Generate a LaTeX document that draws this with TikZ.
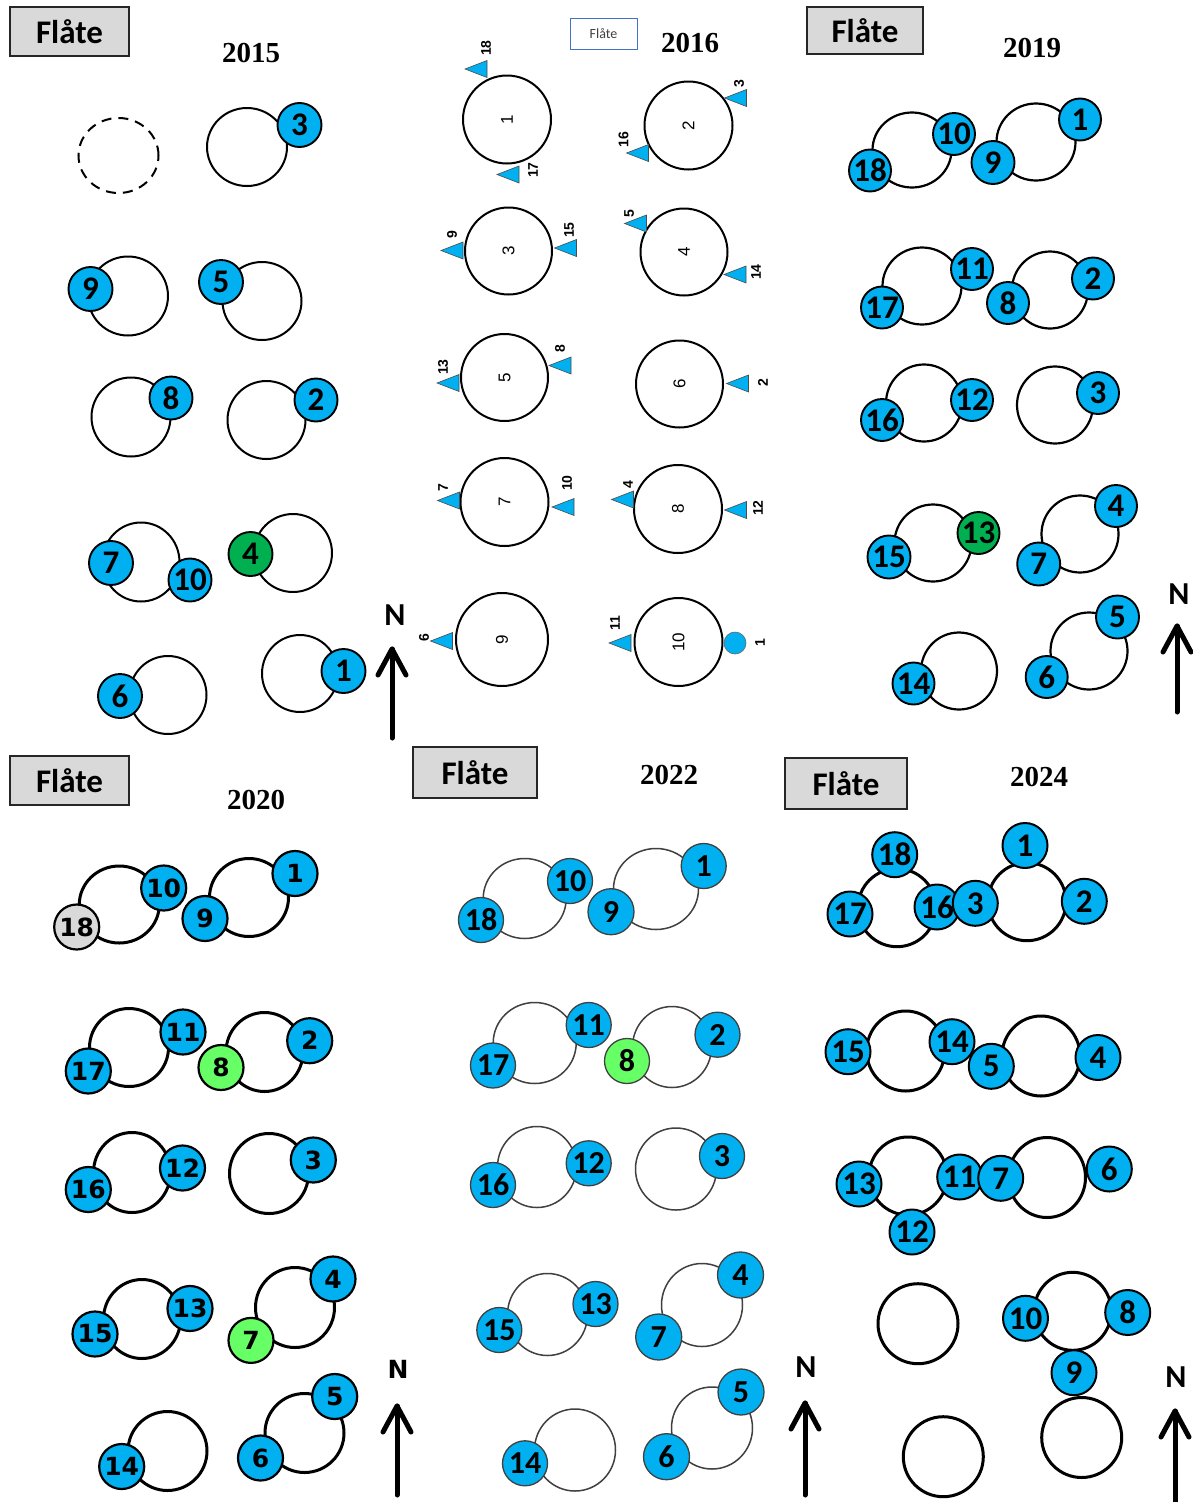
\documentclass[tikz,border=0pt]{standalone}
\usepackage{fontspec}
\setmainfont{Liberation Serif}
\newfontfamily\carl{Carlito}
\newfontfamily\dejav{DejaVu Sans}
\newfontfamily\lsans{Liberation Sans}
\newfontfamily\lserif{Liberation Serif}
\usetikzlibrary{shapes.geometric}
\definecolor{fishblue}{RGB}{0,176,240}
\definecolor{darkgreen}{RGB}{0,176,80}
\definecolor{lightgreen}{RGB}{102,255,102}
\definecolor{boxgray}{RGB}{217,217,217}
\definecolor{boxblue}{RGB}{68,114,196}
\begin{document}
\begin{tikzpicture}[x=1pt,y=-1pt,
  pen/.style 2 args={ellipse, draw, inner sep=0pt, minimum width=#1, minimum height=#2},
  fish/.style={circle, draw, fill=fishblue, line width=1.9pt, inner sep=0pt, minimum size=44pt, font=\carl\bfseries\fontsize{33}{33}\selectfont},
  fishB/.style={fish, line width=2.2pt, minimum size=45pt, font=\dejav\bfseries\fontsize{25}{25}\selectfont},
  fishC/.style={fish, line width=1.3pt, draw=black!75, minimum size=45pt, font=\carl\bfseries\fontsize{32}{32}\selectfont},
  fishD/.style={fish, line width=2pt, minimum size=45pt},
  flbox/.style={draw=black!85, fill=boxgray, line width=2pt, inner sep=0pt, font=\carl\bfseries\fontsize{33}{33}\selectfont},
  yr/.style={font=\lserif\bfseries\fontsize{29}{29}\selectfont},
  nlab/.style={font=\carl\bfseries\fontsize{32}{32}\selectfont},
  narrow/.style={line width=5pt, line cap=round, line join=round},
  clab/.style={rotate=90, font=\lsans\fontsize{17}{17}\selectfont},
  tlab/.style={rotate=90, font=\lsans\bfseries\fontsize{14}{14}\selectfont},
  tri/.pic={\filldraw[fill=fishblue, draw=black!70, line width=0.6pt] (11,-8.5) -- (11,8.5) -- (-11,0) -- cycle;}
]
\useasboundingbox (0,0) rectangle (1192,1502);
\fill[white] (0,0) rectangle (1192,1502);

% ================= 2015 =================
\node[flbox, minimum width=119pt, minimum height=49pt] (box15) at (69.5,31.5) {Flåte};
\node[yr] (y15) at (251,53) {2015};
\begin{scope}[line width=2pt]
\node[pen={80}{75}, dashed, dash pattern=on 10pt off 7pt] (a15e) at (118.5,155.5) {};
\node[pen={80}{78}] (a15p3) at (247,147) {};
\node[pen={80}{79}] (a15p9) at (128,296) {};
\node[pen={79}{78}] (a15p5) at (262,301) {};
\node[pen={79}{79}] (a15p8) at (131,417) {};
\node[pen={78}{78}] (a15p2) at (266.5,420) {};
\node[pen={77}{79}] (a15p7) at (141,562) {};
\node[pen={78}{78}] (a15p4) at (293,553) {};
\node[pen={76}{77}] (a15p1) at (300,673.5) {};
\node[pen={77}{78}] (a15p6) at (168,695) {};
\end{scope}
\node[fish] (a15f3) at (299.5,125) {3};
\node[fish] (a15f9) at (90.5,289) {9};
\node[fish] (a15f5) at (221,282) {5};
\node[fish, minimum size=43pt] (a15f8) at (171,398) {8};
\node[fish, minimum size=43pt] (a15f2) at (316,400) {2};
\node[fish] (a15f7) at (111,563) {7};
\node[fish, minimum size=43pt] (a15f10) at (190,580) {10};
\node[fish, fill=darkgreen] (a15f4) at (250.5,554) {4};
\node[fish] (a15f1) at (343.5,671) {1};
\node[fish] (a15f6) at (120,696) {6};
\node[nlab] (n15) at (395,615) {N};
\coordinate (n15b) at (392,738);
\coordinate (n15t) at (392,649);
\draw[narrow] (n15b) -- (n15t);
\draw[narrow] (n15t) ++(-14,26) -- (n15t) -- ++(14,26);

% ================= 2016 =================
\node[draw=boxblue, line width=1pt, fill=white, minimum width=67pt, minimum height=31pt, inner sep=0pt, text=black!75, font=\carl\fontsize{14}{14}\selectfont] (box16) at (603.5,33.5) {Flåte};
\node[yr] (y16) at (690,43) {2016};
\begin{scope}[line width=2pt]
\node[pen={88}{88}] (c1) at (507,119.5) {};
\node[pen={88}{88}] (c2) at (688.5,125.5) {};
\node[pen={87}{87}] (c3) at (508.5,251) {};
\node[pen={87}{87}] (c4) at (684,252) {};
\node[pen={87}{87}] (c5) at (504.5,377.5) {};
\node[pen={87}{87}] (c6) at (679.5,384) {};
\node[pen={88}{88}] (c7) at (504.5,502) {};
\node[pen={88}{88}] (c8) at (678,509) {};
\node[pen={92}{93}] (c9) at (502,639.5) {};
\node[pen={88}{88}] (c10) at (678.5,642) {};
\end{scope}
\node[clab] at (c1) {1};
\node[clab] at (c2) {2};
\node[clab] at (c3) {3};
\node[clab] at (c4) {4};
\node[clab] at (c5) {5};
\node[clab] at (c6) {6};
\node[clab] at (c7) {7};
\node[clab] at (c8) {8};
\node[clab] at (c9) {9};
\node[clab] at (c10) {10};
\pic (t18) at (476,69) {tri};
\pic (t17) at (508,174.5) {tri};
\pic (t3) at (735.5,98) {tri};
\pic (t16) at (637.5,153) {tri};
\pic (t9) at (452,250.5) {tri};
\pic (t15) at (565.5,248) {tri};
\pic (t5) at (635.5,223.5) {tri};
\pic (t14) at (735,274.5) {tri};
\pic (t13) at (448,383) {tri};
\pic (t8) at (560,365.5) {tri};
\pic (t2) at (737.5,383.5) {tri};
\pic (t7) at (448.5,500.5) {tri};
\pic (t10) at (563,507) {tri};
\pic (t4) at (622.5,499.5) {tri};
\pic (t12) at (735.5,510) {tri};
\pic (t6) at (441.5,641) {tri};
\pic (t11) at (620,643) {tri};
\node[circle, fill=fishblue, draw=black!60, line width=0.6pt, minimum size=22pt, inner sep=0pt] (d1) at (735,643) {};
\node[tlab] (l18) at (486,48) {18};
\node[tlab] (l17) at (533,170) {17};
\node[tlab] (l3) at (739,84) {3};
\node[tlab] (l16) at (623.5,139.5) {16};
\node[tlab] (l9) at (452,235) {9};
\node[tlab] (l15) at (569,230) {15};
\node[tlab] (l5) at (629,214) {5};
\node[tlab] (l14) at (756,272) {14};
\node[tlab] (l13) at (443,367) {13};
\node[tlab] (l8) at (560,349) {8};
\node[tlab] (l2) at (763,383) {2};
\node[tlab] (l7) at (443,488) {7};
\node[tlab] (l10) at (567,483) {10};
\node[tlab] (l4) at (628,485) {4};
\node[tlab] (l12) at (758,508) {12};
\node[tlab] (l6) at (424,638) {6};
\node[tlab] (l11) at (615,623) {11};
\node[tlab] (l1) at (760,643) {1};

% ================= 2019 =================
\node[flbox, minimum width=116pt, minimum height=47pt] (box19) at (865,30.5) {Flåte};
\node[yr] (y19) at (1032,48) {2019};
\begin{scope}[line width=2.2pt]
\node[pen={79}{75}] (a19p10) at (912,150) {};
\node[pen={79}{77}] (a19p1) at (1036,142) {};
\node[pen={79}{77}] (a19p11) at (922,286) {};
\node[pen={76}{77}] (a19p2) at (1050,290) {};
\node[pen={76}{77}] (a19p12) at (924,403) {};
\node[pen={76}{77}] (a19p3) at (1055,405) {};
\node[pen={77}{77}] (a19p13) at (933,543) {};
\node[pen={77}{77}] (a19p4) at (1080,534) {};
\node[pen={76}{77}] (a19p14) at (959,671) {};
\node[pen={77}{77}] (a19p5) at (1089,651) {};
\end{scope}
\node[fish, minimum size=42pt] (a19f10) at (954,134) {10};
\node[fish, minimum size=42pt] (a19f18) at (870,170.5) {18};
\node[fish, minimum size=43pt] (a19f9) at (993,162.5) {9};
\node[fish, minimum size=42pt] (a19f1) at (1080,119.5) {1};
\node[fish, minimum size=42pt] (a19f11) at (972,269) {11};
\node[fish, minimum size=42pt] (a19f17) at (882,307.5) {17};
\node[fish, minimum size=42pt] (a19f2) at (1093,278.5) {2};
\node[fish, minimum size=42pt] (a19f8) at (1008,303) {8};
\node[fish, minimum size=42pt] (a19f12) at (972,400) {12};
\node[fish, minimum size=42pt] (a19f16) at (882,420) {16};
\node[fish, minimum size=42pt] (a19f3) at (1098,393) {3};
\node[fish, minimum size=42pt, fill=darkgreen] (a19f13) at (978.5,533) {13};
\node[fish, minimum size=43pt] (a19f15) at (889,557) {15};
\node[fish, minimum size=42pt] (a19f4) at (1116,506) {4};
\node[fish, minimum size=43pt] (a19f7) at (1038.7,564) {7};
\node[fish, minimum size=42pt] (a19f14) at (913.5,683.5) {14};
\node[fish, minimum size=43pt] (a19f5) at (1117.5,617) {5};
\node[fish, minimum size=42pt] (a19f6) at (1046.7,677) {6};
\node[nlab] (n19) at (1179,594) {N};
\coordinate (n19b) at (1177,712);
\coordinate (n19t) at (1177,626);
\draw[narrow] (n19b) -- (n19t);
\draw[narrow] (n19t) ++(-14,26) -- (n19t) -- ++(14,26);

% ================= 2020 =================
\node[flbox, minimum width=119pt, minimum height=49pt] (box20) at (69.5,780.5) {Flåte};
\node[yr] (y20) at (256,800) {2020};
\begin{scope}[line width=3pt]
\node[pen={80}{77}] (a20p10) at (119.3,904.5) {};
\node[pen={79}{78}] (a20p1) at (249,897.5) {};
\node[pen={79}{78}] (a20p11) at (129,1047.5) {};
\node[pen={77}{79}] (a20p2) at (264.5,1052) {};
\node[pen={77}{80}] (a20p12) at (132,1172.5) {};
\node[pen={79}{80}] (a20p3) at (269,1173.5) {};
\node[pen={77}{79}] (a20p13) at (142,1319) {};
\node[pen={79}{80}] (a20p4) at (295,1307.5) {};
\node[pen={79}{79}] (a20p14) at (167.5,1451) {};
\node[pen={79}{79}] (a20p5) at (304.5,1433) {};
\end{scope}
\node[fishB, fill=boxgray] (a20f18) at (76.7,927) {18};
\node[fishB] (a20f10) at (163.7,888) {10};
\node[fishB] (a20f9) at (205,918.5) {9};
\node[fishB] (a20f1) at (295,873.5) {1};
\node[fishB] (a20f11) at (183,1032) {11};
\node[fishB] (a20f17) at (88.3,1071) {17};
\node[fishB, fill=lightgreen] (a20f8) at (221,1067.5) {8};
\node[fishB] (a20f2) at (309.7,1040.7) {2};
\node[fishB] (a20f12) at (182.5,1168) {12};
\node[fishB] (a20f16) at (88.3,1189.5) {16};
\node[fishB] (a20f3) at (313.3,1160) {3};
\node[fishB] (a20f13) at (190,1308.5) {13};
\node[fishB] (a20f15) at (95,1334) {15};
\node[fishB] (a20f4) at (333,1279) {4};
\node[fishB, fill=lightgreen] (a20f7) at (251,1340.4) {7};
\node[fishB] (a20f14) at (121.7,1466.5) {14};
\node[fishB] (a20f5) at (334.7,1396.5) {5};
\node[fishB] (a20f6) at (260.5,1458) {6};
\node[font=\dejav\bfseries\fontsize{25}{25}\selectfont] (n20) at (398,1369) {N};
\coordinate (n20b) at (397,1495);
\coordinate (n20t) at (397,1406);
\draw[narrow] (n20b) -- (n20t);
\draw[narrow] (n20t) ++(-14,26) -- (n20t) -- ++(14,26);

% ================= 2022 =================
\node[flbox, minimum width=124pt, minimum height=51pt] (box22) at (475,772.5) {Flåte};
\node[yr] (y22) at (669,775) {2022};
\begin{scope}[line width=1.5pt, every node/.append style={draw=black!75}]
\node[pen={83}{80}] (a22p10) at (524.7,898.5) {};
\node[pen={85}{81}] (a22p1) at (656,889) {};
\node[pen={83}{81}] (a22p11) at (534.7,1043) {};
\node[pen={79}{81}] (a22p2) at (672,1047) {};
\node[pen={79}{81}] (a22p12) at (537,1167) {};
\node[pen={81}{82}] (a22p3) at (676,1169) {};
\node[pen={80}{82}] (a22p13) at (547.5,1314.5) {};
\node[pen={81}{83}] (a22p4) at (702,1305) {};
\node[pen={81}{82}] (a22p14) at (575,1450) {};
\node[pen={81}{82}] (a22p5) at (712,1428) {};
\end{scope}
\node[fishC] (a22f10) at (570,881) {10};
\node[fishC] (a22f18) at (481,920) {18};
\node[fishC] (a22f1) at (703.7,866) {1};
\node[fishC, minimum size=46pt] (a22f9) at (611,911.7) {9};
\node[fishC] (a22f11) at (588.7,1025) {11};
\node[fishC] (a22f17) at (493,1065.5) {17};
\node[fishC, fill=lightgreen] (a22f8) at (627,1061) {8};
\node[fishC] (a22f2) at (717.5,1034.7) {2};
\node[fishC] (a22f12) at (588.7,1163.3) {12};
\node[fishC] (a22f16) at (493,1185) {16};
\node[fishC] (a22f3) at (722,1156) {3};
\node[fishC] (a22f13) at (595.5,1304) {13};
\node[fishC] (a22f15) at (499.3,1330) {15};
\node[fishC, minimum size=46pt] (a22f4) at (740.5,1275) {4};
\node[fishC, minimum size=46pt] (a22f7) at (658.7,1337) {7};
\node[fishC] (a22f14) at (525,1463.3) {14};
\node[fishC, minimum size=46pt] (a22f5) at (741,1392) {5};
\node[fishC, minimum size=46pt] (a22f6) at (666.5,1456.7) {6};
\node[nlab] (n22) at (806,1367) {N};
\coordinate (n22b) at (805,1495);
\coordinate (n22t) at (805,1403);
\draw[narrow] (n22b) -- (n22t);
\draw[narrow] (n22t) ++(-14,26) -- (n22t) -- ++(14,26);

% ================= 2024 =================
\node[flbox, minimum width=122pt, minimum height=51pt] (box24) at (846,783.5) {Flåte};
\node[yr] (y24) at (1039,777) {2024};
\begin{scope}[line width=3pt]
\node[pen={78}{78}] (a24p16) at (897,907.7) {};
\node[pen={78}{78}] (a24p3) at (1027,901.7) {};
\node[pen={78}{80}] (a24p15) at (905.7,1051) {};
\node[pen={78}{80}] (a24p5) at (1041,1056) {};
\node[pen={78}{78}] (a24p13) at (908,1176) {};
\node[pen={77}{80}] (a24p7) at (1047,1177.5) {};
\node[pen={80}{80}] (a24pe1) at (918,1323.7) {};
\node[pen={77}{78}] (a24p10) at (1072.7,1311.3) {};
\node[pen={80}{80}] (a24pe2) at (943.3,1456.7) {};
\node[pen={80}{80}] (a24pe3) at (1081.7,1437.5) {};
\end{scope}
\node[fishD] (a24f18) at (894.7,854.7) {18};
\node[fishD] (a24f17) at (850,914) {17};
\node[fishD] (a24f16) at (937,907) {16};
\node[fishD] (a24f1) at (1025,845.5) {1};
\node[fishD] (a24f3) at (975.3,903.3) {3};
\node[fishD] (a24f2) at (1084.3,901.3) {2};
\node[fishD] (a24f15) at (848,1051.7) {15};
\node[fishD] (a24f14) at (952,1041.7) {14};
\node[fishD] (a24f5) at (991.3,1066.3) {5};
\node[fishD] (a24f4) at (1098,1057.5) {4};
\node[fishD] (a24f13) at (859,1184) {13};
\node[fishD] (a24f11) at (959.7,1177) {11};
\node[fishD] (a24f12) at (912,1232) {12};
\node[fishD] (a24f7) at (1000.7,1178.3) {7};
\node[fishD] (a24f6) at (1109.3,1169) {6};
\node[fishD] (a24f10) at (1025.5,1318.3) {10};
\node[fishD] (a24f8) at (1127.7,1312.5) {8};
\node[fishD] (a24f9) at (1074,1372.7) {9};
\node[nlab] (n24) at (1176,1377) {N};
\coordinate (n24b) at (1175,1502);
\coordinate (n24t) at (1175,1411);
\draw[narrow] (n24b) -- (n24t);
\draw[narrow] (n24t) ++(-14,26) -- (n24t) -- ++(14,26);
\end{tikzpicture}
\end{document}
